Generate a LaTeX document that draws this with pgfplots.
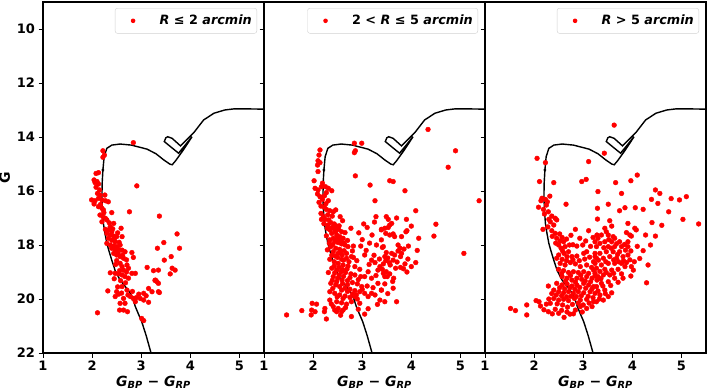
\documentclass[border=0pt]{standalone}
\usepackage{pgfplots}
\usepackage{pgfplotstable}
\pgfplotsset{compat=1.18}
\usepackage{fontspec}
\setmainfont{DejaVu Sans}

\pgfplotstableread{
x y
3.20 22.00
3.10 21.35
3.01 20.84
2.93 20.50
2.88 20.28
2.83 20.00
2.78 19.79
2.68 19.55
2.57 19.30
2.47 18.95
2.40 18.56
2.34 18.20
2.30 17.94
2.26 17.55
2.23 17.20
2.21 16.70
2.20 16.21
2.205 15.70
2.22 15.22
2.245 14.73
2.30 14.42
2.40 14.30
2.57 14.26
2.80 14.30
3.12 14.45
3.30 14.62
3.46 14.85
3.58 15.00
3.63 15.03
3.70 14.88
3.85 14.50
4.035 13.99
3.76 14.60
3.47 14.17
3.50 14.03
3.54 13.99
3.63 14.05
3.80 14.33
4.07 13.84
4.27 13.37
4.48 13.12
4.70 13.00
4.88 12.96
5.20 12.96
5.55 12.97
}\iso

\pgfplotstableread{
x y
2.84 14.21
2.22 14.51
2.25 14.67
2.22 14.75
2.08 15.35
2.13 15.32
2.04 15.59
2.06 15.69
2.10 15.65
2.13 15.74
2.08 15.86
2.15 15.96
2.11 16.09
2.16 16.15
1.99 16.33
2.06 16.36
2.13 16.27
2.20 16.33
2.27 16.36
2.33 16.40
2.04 16.48
2.13 16.58
2.20 16.64
2.23 16.70
2.40 16.80
2.16 16.89
2.22 16.95
2.27 17.01
2.30 17.07
2.20 17.14
2.44 17.20
2.37 17.32
2.27 17.42
2.33 17.44
2.40 17.51
2.59 17.38
2.30 17.57
2.37 17.63
2.44 17.67
2.50 17.69
2.61 17.69
2.33 17.75
2.40 17.82
2.47 17.88
2.30 17.94
2.37 18.00
2.44 18.04
2.50 18.06
2.57 18.00
2.40 18.12
2.47 18.19
2.54 18.16
2.61 18.19
2.67 18.25
2.44 18.31
2.50 18.37
2.57 18.43
2.81 18.28
2.84 18.46
2.64 18.49
2.50 18.58
2.57 18.68
2.61 18.80
2.71 18.74
2.74 18.86
2.64 18.93
2.37 19.03
2.47 19.05
2.54 19.07
2.61 19.11
2.67 19.17
2.74 19.23
2.81 19.05
2.88 19.05
3.12 18.83
3.25 18.95
3.35 18.93
3.29 19.30
3.32 19.36
3.35 19.42
3.46 17.91
3.33 18.12
3.73 17.59
3.78 18.12
3.61 18.43
3.47 18.56
3.63 18.86
3.69 18.93
3.59 19.07
3.37 16.93
2.91 15.81
2.76 16.77
2.61 19.54
2.71 19.67
2.50 19.73
2.54 19.82
2.47 19.91
2.64 19.98
2.57 20.16
2.67 20.16
2.78 19.91
2.84 19.98
2.88 20.10
2.95 19.82
2.98 19.98
3.05 20.04
3.15 20.12
3.22 19.73
3.15 19.61
3.35 19.73
3.05 19.79
2.32 19.70
2.64 20.41
2.56 20.41
2.72 20.47
2.11 20.51
3.01 20.72
3.05 20.80
3.37 19.76
3.28 19.31
2.35 17.18
2.42 17.40
2.52 17.55
2.45 17.78
2.55 17.90
2.53 18.30
2.62 18.38
2.70 18.55
2.48 18.72
2.56 18.95
2.70 19.00
2.45 19.25
2.58 19.32
2.68 19.40
2.52 19.55
2.60 19.78
2.73 19.85
2.82 19.72
2.90 19.95
3.10 19.88
2.26 16.15
2.17 16.50
2.24 16.80
}\pone

\pgfplotstableread{
x y
2.84 14.23
2.99 14.23
2.86 14.51
2.84 14.58
2.14 14.48
2.12 14.67
2.10 14.88
2.14 14.95
2.09 15.04
2.10 15.28
2.86 15.44
2.02 15.62
2.04 15.90
2.10 15.96
2.09 16.11
2.17 15.84
2.25 15.84
2.31 15.90
2.38 15.99
2.27 16.06
2.14 16.21
2.19 16.31
2.31 16.36
2.16 16.56
2.23 16.60
2.27 16.68
2.34 16.73
2.41 16.77
2.46 16.70
2.16 16.83
2.21 16.95
2.25 17.05
2.17 17.05
2.32 17.07
2.36 17.17
2.43 17.22
2.48 17.30
2.41 17.32
2.29 17.38
2.34 17.44
2.44 17.44
2.52 17.42
2.58 17.51
2.65 17.54
2.77 17.38
2.38 17.57
2.48 17.63
2.54 17.69
2.61 17.75
2.41 17.75
2.34 17.81
2.44 17.88
2.51 17.91
2.58 17.96
2.65 18.00
2.71 18.06
2.82 18.04
2.36 18.06
2.46 18.12
2.54 18.16
2.63 18.21
2.41 18.25
2.51 18.31
2.59 18.37
2.68 18.31
2.50 18.46
2.58 18.53
2.68 18.49
2.78 18.43
2.34 18.53
2.43 18.62
2.51 18.68
2.61 18.74
2.71 18.78
2.85 18.80
2.95 18.90
2.38 18.86
2.48 18.93
2.57 18.99
2.66 19.02
2.77 19.07
2.85 19.11
2.97 19.17
2.41 19.17
2.50 19.23
2.59 19.30
2.70 19.32
2.80 19.39
2.90 19.44
2.36 19.42
2.46 19.48
2.54 19.54
2.65 19.60
2.75 19.64
2.85 19.69
2.95 19.73
3.05 19.79
2.34 19.73
2.44 19.79
2.54 19.85
2.65 19.89
2.75 19.94
2.34 20.04
2.48 20.10
2.58 20.14
2.68 20.19
2.78 20.10
2.41 20.28
2.51 20.35
2.61 20.41
2.48 20.47
2.58 20.47
1.98 20.16
2.07 20.19
1.97 20.41
2.04 20.47
2.24 20.35
2.23 20.47
1.96 20.59
1.77 20.43
1.46 20.59
2.27 20.74
2.78 20.65
3.05 20.56
3.16 15.78
3.26 16.36
3.28 16.95
3.03 17.22
3.20 17.63
2.97 18.04
2.82 18.46
3.05 18.37
3.19 18.56
3.26 18.65
3.39 17.44
3.43 18.06
3.32 18.93
3.43 19.05
3.12 18.99
3.05 19.17
3.19 19.23
3.32 19.42
3.39 19.67
3.19 19.79
3.12 19.91
3.26 19.85
3.36 20.04
2.99 19.54
2.88 19.85
2.95 20.16
2.85 19.91
4.34 13.72
4.90 14.51
4.75 15.12
3.56 15.62
3.63 15.65
3.87 15.99
5.38 16.36
4.09 16.73
3.49 16.95
3.53 17.05
3.56 17.26
3.60 17.20
3.53 17.35
3.46 17.38
3.39 17.42
3.63 17.59
3.56 17.63
3.66 17.69
3.48 17.57
3.91 17.47
4.00 17.30
3.89 17.51
3.80 17.69
4.50 17.23
4.46 17.67
4.15 17.75
3.39 17.81
3.41 18.09
3.73 18.00
3.77 18.12
3.49 18.28
3.60 18.31
3.66 18.37
3.80 18.31
3.78 18.43
3.94 18.04
3.46 18.43
3.48 18.58
3.55 18.65
3.63 18.56
3.43 18.70
3.57 18.74
3.68 18.86
3.78 18.83
3.87 18.70
3.93 18.52
4.09 18.65
3.91 19.00
3.49 18.99
3.56 19.07
3.51 19.17
3.46 19.17
3.64 19.23
3.46 19.44
3.39 19.67
3.63 19.60
5.07 18.31
3.46 20.10
3.70 20.10
3.36 18.80
2.19 15.71
2.23 16.18
2.12 16.42
2.26 16.47
2.30 16.88
2.39 16.93
2.22 17.21
2.30 17.26
2.37 17.37
2.46 17.51
2.53 17.29
2.27 17.66
2.33 17.93
2.40 17.99
2.49 17.77
2.56 17.83
2.62 17.92
2.70 17.83
2.29 18.18
2.38 18.38
2.45 18.41
2.55 18.27
2.62 18.56
2.73 18.62
2.80 18.22
2.89 18.58
2.43 18.78
2.53 18.83
2.60 18.91
2.69 18.89
2.31 19.02
2.44 19.03
2.53 19.11
2.62 19.16
2.75 19.21
2.92 19.28
2.39 19.31
2.48 19.36
2.60 19.43
2.70 19.47
2.58 19.67
2.70 19.72
2.80 19.82
2.40 19.61
2.49 19.92
2.61 19.98
2.37 20.18
2.44 20.41
2.66 20.32
2.56 20.60
2.92 20.38
3.00 19.64
3.10 19.52
3.22 19.58
3.28 19.13
3.14 18.72
3.24 18.38
3.08 18.20
3.15 17.93
3.29 18.00
3.35 18.52
3.52 18.48
3.41 18.90
3.71 18.63
3.73 18.22
3.85 18.15
3.84 18.88
3.62 19.35
3.52 19.80
3.31 20.20
3.12 20.36
2.90 20.00
3.00 17.80
2.93 17.55
3.10 17.35
3.25 17.15
3.70 17.00
3.90 17.05
4.12 18.20
4.00 18.80
2.60 17.10
2.55 16.95
}\ptwo

\pgfplotstableread{
x y
2.06 14.79
2.23 14.95
3.11 14.91
2.11 15.65
2.40 15.69
2.97 15.65
3.06 15.57
2.16 16.27
2.14 16.36
2.23 16.31
2.32 16.19
2.09 16.60
2.19 16.68
2.25 16.52
2.29 16.77
2.36 16.93
2.43 17.01
2.65 16.49
2.33 17.14
2.40 17.26
2.46 17.07
2.18 17.42
2.36 17.47
2.43 17.57
2.52 17.59
2.46 17.75
2.57 17.72
2.60 17.88
2.84 17.42
3.11 17.47
2.50 18.00
2.55 18.12
2.63 18.06
2.72 18.00
2.79 17.99
2.87 18.04
2.99 18.00
2.70 18.25
2.61 18.31
2.50 18.37
2.46 18.49
2.57 18.53
2.67 18.43
2.77 18.43
2.87 18.41
3.01 18.31
3.07 18.25
3.20 17.72
3.28 17.63
2.53 18.68
2.63 18.74
2.74 18.65
2.84 18.70
2.94 18.80
3.07 18.74
3.21 18.62
3.24 18.43
2.50 18.90
2.60 18.95
2.70 19.02
2.80 18.99
2.90 19.02
3.01 18.99
3.11 19.05
3.21 18.93
2.57 19.17
2.67 19.23
2.77 19.30
2.87 19.23
2.97 19.27
3.07 19.17
3.18 19.23
3.28 19.30
2.46 19.42
2.57 19.48
2.67 19.44
2.77 19.52
2.87 19.48
3.01 19.42
3.11 19.48
3.21 19.54
2.29 19.52
2.40 19.67
2.50 19.73
2.60 19.77
2.70 19.73
2.80 19.79
2.90 19.73
3.01 19.77
3.14 19.73
3.24 19.79
2.40 19.98
2.50 20.04
2.60 20.01
2.70 20.06
2.82 19.98
2.94 20.04
3.07 20.01
3.21 20.10
2.33 20.16
2.25 20.19
2.13 20.26
2.04 20.06
1.85 20.22
1.62 20.43
1.52 20.35
1.85 20.59
2.29 20.47
2.43 20.38
2.50 20.53
2.61 20.68
2.73 20.56
2.84 20.41
2.94 20.28
3.07 20.35
3.18 20.28
3.63 13.56
3.43 14.60
4.10 15.41
3.97 15.62
3.66 15.69
3.30 16.02
3.78 16.09
4.47 15.96
4.56 16.09
3.51 16.49
3.29 16.64
3.74 16.73
3.85 16.62
4.06 16.62
4.22 16.68
4.39 16.31
4.52 16.46
4.79 16.28
4.96 16.33
5.10 16.21
4.74 16.77
4.60 17.27
4.40 17.17
5.03 17.05
5.35 17.22
3.29 17.04
3.54 17.10
3.58 17.30
3.91 17.20
4.05 17.38
4.08 17.44
3.88 17.54
3.95 17.63
3.98 17.67
4.27 17.63
4.47 17.67
4.37 18.00
4.22 18.21
4.32 18.74
4.29 19.40
3.97 19.15
3.81 19.23
3.44 17.38
3.47 17.51
3.37 17.63
3.51 17.63
3.61 17.69
3.64 17.75
3.74 17.88
3.58 17.88
3.44 17.88
3.34 17.94
3.27 18.06
3.51 18.06
3.64 18.06
3.78 18.06
3.91 18.06
3.86 18.19
3.74 18.25
3.61 18.25
3.47 18.25
3.34 18.31
3.27 18.49
3.41 18.49
3.54 18.43
3.68 18.49
3.81 18.43
3.91 18.37
3.88 18.65
3.78 18.68
3.64 18.68
3.51 18.68
3.37 18.74
3.27 18.86
3.44 18.90
3.58 18.93
3.71 18.90
3.85 18.80
3.98 18.80
4.02 18.93
3.54 19.11
3.41 19.11
3.30 19.17
3.64 19.23
3.51 19.36
3.37 19.42
3.27 19.54
3.44 19.67
3.58 19.77
3.34 19.85
3.51 19.91
3.41 20.04
3.27 20.10
4.04 18.62
3.91 17.88
3.24 17.88
3.24 18.31
3.24 18.68
3.24 19.05
2.27 16.40
2.21 16.85
2.30 17.05
2.28 17.33
2.37 17.68
2.44 17.93
2.53 17.85
2.66 17.78
2.75 17.64
2.93 17.75
3.05 17.85
3.15 18.05
2.58 18.22
2.66 18.58
2.79 18.55
2.92 18.58
3.03 18.52
3.13 18.45
3.17 18.83
3.31 18.56
3.34 18.98
3.46 18.62
3.62 18.55
3.72 18.62
3.82 18.58
3.95 18.55
3.70 18.35
3.57 18.12
3.42 18.10
3.30 17.75
3.52 17.80
3.68 17.95
3.84 17.98
3.97 18.22
4.10 18.05
4.15 18.50
2.56 19.05
2.64 19.33
2.74 19.13
2.84 19.37
2.95 19.12
3.04 19.33
3.15 19.36
3.24 19.14
3.36 19.25
3.47 19.02
3.62 19.05
3.78 19.07
3.71 19.38
3.56 19.50
3.40 19.52
3.30 19.70
3.18 19.62
3.05 19.60
2.93 19.57
2.83 19.64
2.73 19.58
2.62 19.62
2.52 19.58
2.45 19.85
2.56 19.88
2.66 19.92
2.75 19.90
2.86 19.91
2.96 19.88
3.10 19.90
3.20 19.95
3.33 20.00
3.45 19.80
2.36 19.80
2.30 20.00
2.47 20.18
2.58 20.22
2.68 20.30
2.78 20.20
2.90 20.15
3.00 20.22
3.12 20.15
2.56 20.42
2.67 20.48
2.20 20.40
2.10 20.10
2.37 20.55
2.80 20.55
2.98 20.48
}\pthree

\pgfplotsset{
  panel/.style={
    scale only axis, width=221bp, height=351bp,
    xmin=1, xmax=5.5, ymin=9, ymax=22, y dir=reverse,
    xtick={1,2,3,4,5}, ytick={10,12,14,16,18,20,22},
    tick pos=left, tick align=outside,
    major tick length=4.5bp,
    tick style={line width=1bp, black},
    axis line style={line width=2.4bp},
    /pgf/number format/assume math mode=true,
    ticklabel style={font=\fontsize{13bp}{15bp}\selectfont\bfseries},
    xlabel={G\textsubscript{BP} − G\textsubscript{RP}},
    xlabel style={font=\fontsize{14bp}{16bp}\selectfont\bfseries\itshape, yshift=2bp},
    legend style={at={(rel axis cs:1,1)}, xshift=-7bp, yshift=-6bp, anchor=north east,
      draw=black!18, rounded corners=2.5bp, fill=white,
      font=\fontsize{12.8bp}{15bp}\selectfont\bfseries\itshape,
      inner xsep=3bp, inner ysep=5bp},
    legend cell align=left,
    legend image code/.code={\path[draw=none] (-15bp,0bp) -- (24.5bp,0bp); \fill[red, draw=none] (0bp,0bp) circle[radius=2.3bp];},
  },
  pts/.style={only marks, mark=*, mark size=2.4bp, color=red, mark options={draw=none, fill=red}},
  isoc/.style={black, line width=1.4bp, forget plot},
}

\begin{document}
\begin{tikzpicture}
\begin{axis}[panel, at={(43bp,38bp)}, anchor=south west,
  ylabel={G}, ylabel style={font=\fontsize{14bp}{16bp}\selectfont\bfseries}]
\addplot[pts] table {\pone};
\addlegendentry{R ≤ {\upshape 2} arcmin}
\addplot[isoc] table {\iso};
\addplot[only marks, mark=*, mark size=1.2bp, black, forget plot] coordinates {(2.22,15.22)};
\end{axis}
\begin{axis}[panel, at={(264bp,38bp)}, anchor=south west, yticklabels={}]
\addplot[pts] table {\ptwo};
\addlegendentry{{\upshape 2} < R ≤ {\upshape 5} arcmin}
\addplot[isoc] table {\iso};
\addplot[only marks, mark=*, mark size=1.2bp, black, forget plot] coordinates {(2.22,15.22)};
\end{axis}
\begin{axis}[panel, at={(485bp,38bp)}, anchor=south west, yticklabels={}]
\addplot[pts] table {\pthree};
\addlegendentry{R > {\upshape 5} arcmin}
\addplot[isoc] table {\iso};
\addplot[only marks, mark=*, mark size=1.2bp, black, forget plot] coordinates {(2.22,15.22)};
\end{axis}
\pgfresetboundingbox
\path[use as bounding box] (0,0) rectangle (708bp,391bp);
\end{tikzpicture}
\end{document}
